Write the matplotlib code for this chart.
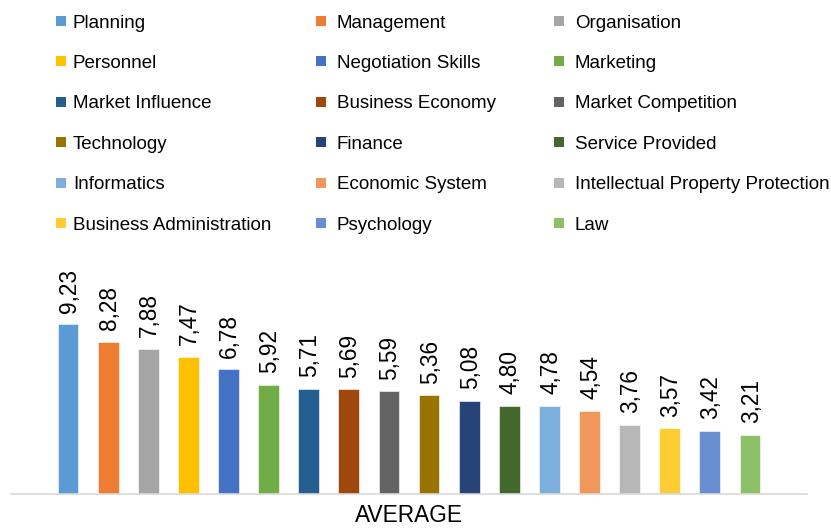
import matplotlib
matplotlib.use("Agg")
import matplotlib.pyplot as plt
from matplotlib.patches import Rectangle
import numpy as np

plt.rcParams['font.family'] = ['Liberation Sans', 'DejaVu Sans']

# data
categories = ['Planning', 'Management', 'Organisation', 'Personnel',
              'Negotiation Skills', 'Marketing', 'Market Influence',
              'Business Economy', 'Market Competition', 'Technology',
              'Finance', 'Service Provided', 'Informatics', 'Economic System',
              'Intellectual Property Protection', 'Business Administration',
              'Psychology', 'Law']
values = [9.23, 8.28, 7.88, 7.47, 6.78, 5.92, 5.71, 5.69, 5.59, 5.36,
          5.08, 4.80, 4.78, 4.54, 3.76, 3.57, 3.42, 3.21]
colors = ['#5B9BD5', '#ED7D31', '#A5A5A5', '#FFC000', '#4472C4', '#70AD47',
          '#255E91', '#9E480E', '#636363', '#997300', '#264478', '#43682B',
          '#7CAFDD', '#F1975A', '#B7B7B7', '#FFCD33', '#698ED0', '#8CC168']
xlabel = 'AVERAGE'

W, H = 831, 528
fig = plt.figure(figsize=(W / 100, H / 100), dpi=100)

# plot area in pixels
left, right, bottom = 11, 807, 494
px_per_unit = 18.39
top = bottom - 10 * px_per_unit
ax = fig.add_axes([left / W, 1 - bottom / H, (right - left) / W, (bottom - top) / H])

x = np.arange(len(values))
bars = ax.bar(x, values, width=0.52, color=colors, edgecolor='white', linewidth=0.4)
for xi, v in zip(x, values):
    ax.annotate(f'{v:.2f}'.replace('.', ','), (xi, v), xytext=(0.8, 8.4),
                textcoords='offset points', rotation=90, ha='center', va='bottom',
                fontsize=16.3, color='#000000', annotation_clip=False)

ax.set_xlim(-1.42, len(values) - 1 + 1.42)
ax.set_ylim(0, 10)
for s in ['top', 'right', 'left']:
    ax.spines[s].set_visible(False)
ax.spines['bottom'].set_color('#D9D9D9')
ax.spines['bottom'].set_linewidth(1.2)
ax.set_yticks([])
ax.set_xticks([])
# x label sits just above the bottom edge
fig.text((left + right) / 2 / W, 1 - 522 / H, xlabel, fontsize=16.3,
         ha='center', va='baseline')

# legend, 3 columns laid out row by row
col_x = [56, 316, 554]
text_off = [17, 21, 21]
row_y0, row_dy = 21, 40.4
for i, (name, c) in enumerate(zip(categories, colors)):
    r, k = divmod(i, 3)
    cx, cy = col_x[k], row_y0 + r * row_dy
    fig.patches.append(Rectangle((cx / W, 1 - (cy + 5) / H), 10 / W, 10 / H,
                                 transform=fig.transFigure, facecolor=c,
                                 edgecolor='none'))
    fig.text((cx + text_off[k]) / W, 1 - cy / H, name, fontsize=13.5,
             va='center_baseline', ha='left', color='#000000')

fig.savefig('out.png', dpi=100)
